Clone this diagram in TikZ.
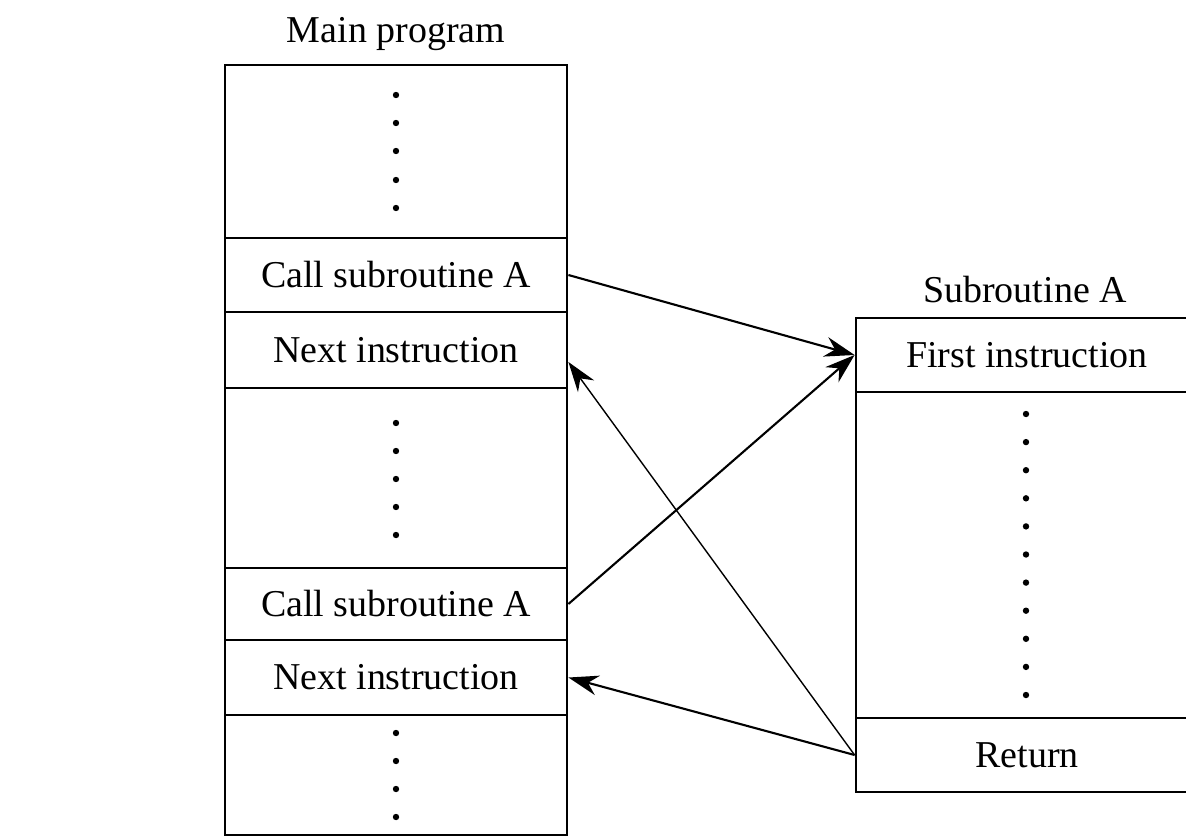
\documentclass[tikz,border=0pt]{standalone}
\usepackage{fontspec}
\setmainfont{Liberation Serif}
\usetikzlibrary{arrows.meta,calc}
\begin{document}
\begin{tikzpicture}[font=\fontsize{10.8}{13}\selectfont,
  cell/.style={draw,line width=0.8pt,minimum width=3.42cm,inner sep=0pt},
  jump/.style={semithick,-{Stealth[length=3mm,width=2mm]}},
  back/.style={thin,-{Stealth[length=3mm,width=2mm]}}]
 \useasboundingbox (0,0) rectangle (11.86,-8.37);
 \clip (0,0) rectangle (11.86,-8.37);
 \node (mlabel) at (3.96,-0.34) {Main program};
 \node[cell,minimum height=1.73cm] (m1) at (3.96,-1.515) {};
 \node[cell,minimum height=0.74cm] (m2) at (3.96,-2.75) {Call subroutine A};
 \node[cell,minimum height=0.76cm] (m3) at (3.96,-3.50) {Next instruction};
 \node[cell,minimum height=1.80cm] (m4) at (3.96,-4.78) {};
 \node[cell,minimum height=0.72cm] (m5) at (3.96,-6.04) {Call subroutine A};
 \node[cell,minimum height=0.75cm] (m6) at (3.96,-6.775) {Next instruction};
 \node[cell,minimum height=1.20cm] (m7) at (3.96,-7.75) {};
 \node (slabel) at (10.25,-2.90) {Subroutine A};
 \node[cell,minimum height=0.74cm] (s1) at (10.27,-3.55) {First instruction};
 \node[cell,minimum height=3.26cm] (s2) at (10.27,-5.55) {};
 \node[cell,minimum height=0.74cm] (s3) at (10.27,-7.55) {Return};
 \foreach \y in {0.95,1.23,1.51,1.80,2.08,4.23,4.51,4.79,5.07,5.35,7.33,7.61,7.89,8.17}
  \fill (3.96,-\y) circle (0.032);
 \foreach \i in {0,...,10}
  \fill (10.26,-4.14-0.281*\i) circle (0.032);
 \draw[jump] (m2.east) -- (s1.west);
 \draw[jump] (m5.east) -- (s1.west);
 \draw[back] (s3.west) -- ($(m3.east)+(0,-0.12)$);
 \draw[jump] (s3.west) -- (m6.east);
\end{tikzpicture}
\end{document}
